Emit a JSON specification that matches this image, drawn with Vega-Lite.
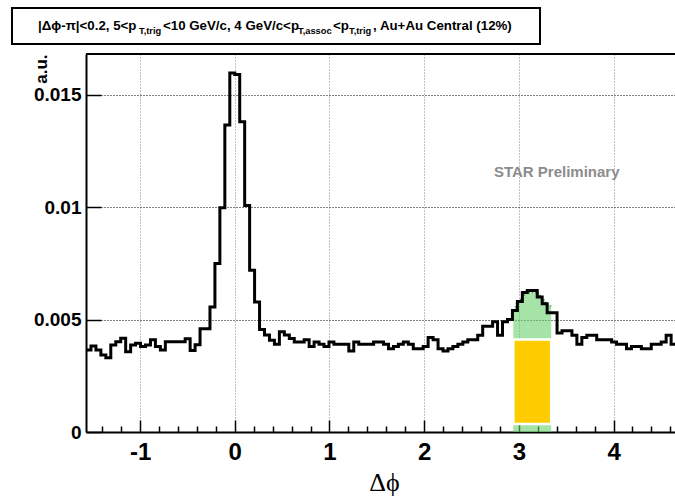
{
  "$schema": "https://vega.github.io/schema/vega-lite/v6.json",
  "autosize": {"type": "none"},
  "padding": {"left": 86, "top": 54, "right": 0, "bottom": 66},
  "width": 589,
  "height": 378,
  "background": "white",
  "config": {"font": "Liberation Sans", "view": {"stroke": null}},
  "data": {"values": [{}]},
  "datasets": {
    "hist": [
      {"phi": -1.5708, "v": 0.00365}, {"phi": -1.5184, "v": 0.00383}, {"phi": -1.4661, "v": 0.00365}, {"phi": -1.4137, "v": 0.00343},
      {"phi": -1.3614, "v": 0.0033}, {"phi": -1.309, "v": 0.00387}, {"phi": -1.2566, "v": 0.00402}, {"phi": -1.2043, "v": 0.00417},
      {"phi": -1.1519, "v": 0.00357}, {"phi": -1.0996, "v": 0.00387}, {"phi": -1.0472, "v": 0.00395}, {"phi": -0.9948, "v": 0.0038},
      {"phi": -0.9425, "v": 0.00387}, {"phi": -0.8901, "v": 0.0041}, {"phi": -0.8378, "v": 0.0038}, {"phi": -0.7854, "v": 0.00365},
      {"phi": -0.733, "v": 0.00402}, {"phi": -0.6807, "v": 0.00402}, {"phi": -0.6283, "v": 0.00402}, {"phi": -0.576, "v": 0.00402},
      {"phi": -0.5236, "v": 0.00415}, {"phi": -0.4712, "v": 0.00363}, {"phi": -0.4189, "v": 0.00388}, {"phi": -0.3665, "v": 0.00459},
      {"phi": -0.3142, "v": 0.00459}, {"phi": -0.2618, "v": 0.00556}, {"phi": -0.2094, "v": 0.0075}, {"phi": -0.1571, "v": 0.00998},
      {"phi": -0.1047, "v": 0.01366}, {"phi": -0.0524, "v": 0.01597}, {"phi": 0.0, "v": 0.0159}, {"phi": 0.0524, "v": 0.0138},
      {"phi": 0.1047, "v": 0.01008}, {"phi": 0.1571, "v": 0.0072}, {"phi": 0.2094, "v": 0.00578}, {"phi": 0.2618, "v": 0.00456},
      {"phi": 0.3142, "v": 0.00432}, {"phi": 0.3665, "v": 0.00408}, {"phi": 0.4189, "v": 0.0039}, {"phi": 0.4712, "v": 0.00446},
      {"phi": 0.5236, "v": 0.00431}, {"phi": 0.576, "v": 0.00416}, {"phi": 0.6283, "v": 0.004}, {"phi": 0.6807, "v": 0.004},
      {"phi": 0.733, "v": 0.0041}, {"phi": 0.7854, "v": 0.0038}, {"phi": 0.8378, "v": 0.004}, {"phi": 0.8901, "v": 0.0039},
      {"phi": 0.9425, "v": 0.0038}, {"phi": 0.9948, "v": 0.004}, {"phi": 1.0472, "v": 0.0039}, {"phi": 1.0996, "v": 0.0039},
      {"phi": 1.1519, "v": 0.0039}, {"phi": 1.2043, "v": 0.0036}, {"phi": 1.2566, "v": 0.004}, {"phi": 1.309, "v": 0.0039},
      {"phi": 1.3614, "v": 0.0039}, {"phi": 1.4137, "v": 0.0039}, {"phi": 1.4661, "v": 0.004}, {"phi": 1.5184, "v": 0.004},
      {"phi": 1.5708, "v": 0.0039}, {"phi": 1.6232, "v": 0.0037}, {"phi": 1.6755, "v": 0.0038}, {"phi": 1.7279, "v": 0.0039},
      {"phi": 1.7802, "v": 0.004}, {"phi": 1.8326, "v": 0.0039}, {"phi": 1.885, "v": 0.0037}, {"phi": 1.9373, "v": 0.0037},
      {"phi": 1.9897, "v": 0.0038}, {"phi": 2.042, "v": 0.0042}, {"phi": 2.0944, "v": 0.0041}, {"phi": 2.1468, "v": 0.0037},
      {"phi": 2.1991, "v": 0.0036}, {"phi": 2.2515, "v": 0.0037}, {"phi": 2.3038, "v": 0.0038}, {"phi": 2.3562, "v": 0.0039},
      {"phi": 2.4086, "v": 0.004}, {"phi": 2.4609, "v": 0.0041}, {"phi": 2.5133, "v": 0.0041}, {"phi": 2.5656, "v": 0.0043},
      {"phi": 2.618, "v": 0.0047}, {"phi": 2.6704, "v": 0.0047}, {"phi": 2.7227, "v": 0.0049}, {"phi": 2.7751, "v": 0.0043},
      {"phi": 2.8274, "v": 0.0049}, {"phi": 2.8798, "v": 0.005}, {"phi": 2.9322, "v": 0.0054}, {"phi": 2.9845, "v": 0.0058},
      {"phi": 3.0369, "v": 0.0062}, {"phi": 3.0892, "v": 0.0063}, {"phi": 3.1416, "v": 0.0063}, {"phi": 3.194, "v": 0.006},
      {"phi": 3.2463, "v": 0.0057}, {"phi": 3.2987, "v": 0.0053}, {"phi": 3.351, "v": 0.0053}, {"phi": 3.4034, "v": 0.0044},
      {"phi": 3.4558, "v": 0.0045}, {"phi": 3.5081, "v": 0.0045}, {"phi": 3.5605, "v": 0.0043}, {"phi": 3.6128, "v": 0.0039},
      {"phi": 3.6652, "v": 0.0042}, {"phi": 3.7176, "v": 0.0043}, {"phi": 3.7699, "v": 0.0043}, {"phi": 3.8223, "v": 0.0041},
      {"phi": 3.8746, "v": 0.0041}, {"phi": 3.927, "v": 0.0041}, {"phi": 3.9794, "v": 0.004}, {"phi": 4.0317, "v": 0.0039},
      {"phi": 4.0841, "v": 0.0039}, {"phi": 4.1364, "v": 0.0037}, {"phi": 4.1888, "v": 0.0038}, {"phi": 4.2412, "v": 0.0038},
      {"phi": 4.2935, "v": 0.0037}, {"phi": 4.3459, "v": 0.0037}, {"phi": 4.3982, "v": 0.0039}, {"phi": 4.4506, "v": 0.0039},
      {"phi": 4.503, "v": 0.004}, {"phi": 4.5553, "v": 0.0043}, {"phi": 4.6077, "v": 0.0039}, {"phi": 4.66, "v": 0.0039},
      {"phi": 4.7124, "v": 0.0039}
    ],
    "green": [
      {"phi": 2.9416, "v": 0.0053}, {"phi": 2.975, "v": 0.0057}, {"phi": 3.08, "v": 0.0062},
      {"phi": 3.2, "v": 0.0062}, {"phi": 3.3, "v": 0.0057}, {"phi": 3.3416, "v": 0.0056}
    ],
    "band": [{"phi": 2.9416, "phi2": 3.3416, "v": 0.00036, "v2": 0.00411}]
  },
  "layer": [
    {
      "data": {"name": "green"},
      "mark": {"type": "area", "color": "#6bd06b", "opacity": 0.6},
      "encoding": {
        "x": {
          "field": "phi", "type": "quantitative",
          "scale": {"domain": [-1.5708, 4.6488], "nice": false, "zero": false},
          "axis": {
            "values": [-1.4, -1.2, -1, -0.8, -0.6, -0.4, -0.2, 0, 0.2, 0.4, 0.6, 0.8, 1, 1.2, 1.4, 1.6, 1.8, 2, 2.2, 2.4, 2.6, 2.8, 3, 3.2, 3.4, 3.6, 3.8, 4, 4.2, 4.4, 4.6],
            "tickCount": 100,
            "labelExpr": "abs(datum.value - round(datum.value)) < 0.01 ? '' + round(datum.value) : ''",
            "labelFont": "Liberation Sans", "labelFontWeight": "bold", "labelFontSize": 24, "labelColor": "black",
            "labelPadding": 20, "labelFlush": false, "labelOverlap": false, "labelBound": false,
            "tickSize": {"condition": {"test": "abs(datum.value - round(datum.value)) < 0.01", "value": -12}, "value": -6},
            "tickColor": "black", "tickWidth": 1.5,
            "domainColor": "black", "domainWidth": 2,
            "grid": true, "gridColor": "#808080", "gridDash": [1, 2], "gridWidth": 1,
            "gridOpacity": {"condition": {"test": "abs(datum.value - round(datum.value)) < 0.01", "value": 1}, "value": 0},
            "title": "Δϕ", "titleFont": "Liberation Serif", "titleFontSize": 26, "titleFontWeight": "normal", "titleColor": "black",
            "titleX": 298, "titleY": 58, "titleAlign": "center", "titleBaseline": "alphabetic"
          }
        },
        "y": {
          "field": "v", "type": "quantitative",
          "scale": {"domain": [0, 0.016815], "nice": false},
          "axis": {
            "values": [0, 0.005, 0.01, 0.015],
            "tickCount": 100,
            "labelExpr": "format(datum.value, '.3~f')",
            "labelFont": "Liberation Sans", "labelFontWeight": "bold", "labelFontSize": 19, "labelColor": "black",
            "labelPadding": 20, "labelFlush": false, "labelOverlap": false,
            "tickSize": -15, "tickColor": "black", "tickWidth": 1.5,
            "domainColor": "black", "domainWidth": 2,
            "grid": true, "gridColor": "black", "gridDash": [1, 2], "gridWidth": 1,
            "title": "a.u.", "titleFont": "Liberation Sans", "titleFontSize": 17, "titleFontWeight": "bold", "titleColor": "black",
            "titleAngle": -90, "titleX": -45, "titleY": 0, "titleAlign": "right", "titleBaseline": "middle"
          }
        }
      }
    },
    {
      "data": {"name": "green"},
      "mark": {"type": "line", "color": "#2e8b2e", "strokeWidth": 1.5, "strokeDash": [1, 2]},
      "encoding": {
        "x": {"field": "phi", "type": "quantitative"},
        "y": {"field": "v", "type": "quantitative"}
      }
    },
    {
      "data": {"name": "band"},
      "mark": {"type": "rect", "fill": "#ffcc00", "stroke": "white", "strokeWidth": 2.5},
      "encoding": {
        "x": {"field": "phi", "type": "quantitative"},
        "x2": {"field": "phi2"},
        "y": {"field": "v", "type": "quantitative"},
        "y2": {"field": "v2"}
      }
    },
    {
      "data": {"name": "hist"},
      "mark": {"type": "line", "interpolate": "step-after", "color": "black", "strokeWidth": 3, "clip": true, "strokeJoin": "miter"},
      "encoding": {
        "x": {"field": "phi", "type": "quantitative"},
        "y": {"field": "v", "type": "quantitative"}
      }
    },
    {
      "mark": {"type": "rule", "color": "black", "strokeWidth": 2},
      "encoding": {"y": {"datum": 0.016815, "type": "quantitative"}}
    },
    {
      "mark": {"type": "text", "text": "STAR Preliminary", "font": "Liberation Sans", "fontWeight": "bold", "fontSize": 15, "color": "#8c8c8c", "align": "center", "baseline": "middle"},
      "encoding": {
        "x": {"datum": 3.4, "type": "quantitative"},
        "y": {"datum": 0.01157, "type": "quantitative"}
      }
    },
    {
      "mark": {"type": "rect", "fill": "white", "stroke": "black", "strokeWidth": 2},
      "encoding": {
        "x": {"datum": -2.3522, "type": "quantitative"},
        "x2": {"datum": 3.2233},
        "y": {"datum": 0.018861, "type": "quantitative"},
        "y2": {"datum": 0.01726}
      }
    },
    {
      "mark": {"type": "text", "text": "|Δϕ-π|<0.2, 5<p", "font": "Liberation Sans", "fontWeight": "bold", "fontSize": 13.3, "align": "left", "baseline": "alphabetic"},
      "encoding": {"x": {"datum": -2.0777, "type": "quantitative"}, "y": {"datum": 0.017883, "type": "quantitative"}}
    },
    {
      "mark": {"type": "text", "text": "T,trig", "font": "Liberation Sans", "fontWeight": "bold", "fontSize": 9.3, "align": "left", "baseline": "alphabetic"},
      "encoding": {"x": {"datum": -1.0111, "type": "quantitative"}, "y": {"datum": 0.017705, "type": "quantitative"}}
    },
    {
      "mark": {"type": "text", "text": "<10 GeV/c, 4 GeV/c<p", "font": "Liberation Sans", "fontWeight": "bold", "fontSize": 13.3, "align": "left", "baseline": "alphabetic"},
      "encoding": {"x": {"datum": -0.7577, "type": "quantitative"}, "y": {"datum": 0.017883, "type": "quantitative"}}
    },
    {
      "mark": {"type": "text", "text": "T,assoc", "font": "Liberation Sans", "fontWeight": "bold", "fontSize": 9.3, "align": "left", "baseline": "alphabetic"},
      "encoding": {"x": {"datum": 0.6678, "type": "quantitative"}, "y": {"datum": 0.017705, "type": "quantitative"}}
    },
    {
      "mark": {"type": "text", "text": "<p", "font": "Liberation Sans", "fontWeight": "bold", "fontSize": 13.3, "align": "left", "baseline": "alphabetic"},
      "encoding": {"x": {"datum": 1.0374, "type": "quantitative"}, "y": {"datum": 0.017883, "type": "quantitative"}}
    },
    {
      "mark": {"type": "text", "text": "T,trig", "font": "Liberation Sans", "fontWeight": "bold", "fontSize": 9.3, "align": "left", "baseline": "alphabetic"},
      "encoding": {"x": {"datum": 1.2063, "type": "quantitative"}, "y": {"datum": 0.017705, "type": "quantitative"}}
    },
    {
      "mark": {"type": "text", "text": ", Au+Au Central (12%)", "font": "Liberation Sans", "fontWeight": "bold", "fontSize": 13.3, "align": "left", "baseline": "alphabetic"},
      "encoding": {"x": {"datum": 1.4598, "type": "quantitative"}, "y": {"datum": 0.017883, "type": "quantitative"}}
    }
  ]
}
